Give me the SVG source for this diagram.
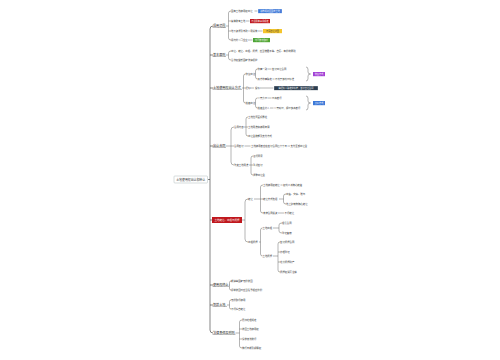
<svg xmlns="http://www.w3.org/2000/svg" width="500" height="360" viewBox="0 0 500 360">
<style>
text{font-family:"Noto Sans CJK SC","Noto Sans",sans-serif;dominant-baseline:central;fill:#333}
.l1{font-size:3.1px;fill:#222}
.lf{font-size:2.4px}
.tg{font-size:2.2px;fill:#fff;text-anchor:middle}
.c{fill:none;stroke:#444;stroke-width:0.4}
.t{fill:none;stroke:#333;stroke-width:0.6}
.u{stroke:#333;stroke-width:0.35}
</style>
<rect width="500" height="360" fill="#fff"/>
<g id="connectors">
<path class="t" d="M208,179.5 H210 M213,26 Q210,26 210,29 V330 Q210,333 213,333 M210,55 H213 M210,88 H213 M210,146 H213 M210,220 H212 M210,285 H213 M210,305 H213"/>
<path class="c" d="M226,26 H228.5 M231,11 Q228.5,11 228.5,13 V38 Q228.5,40 231,40 M228.5,21 H231 M228.5,31 H231"/>
<path class="c" d="M226,55 H228.5 M231,51 Q228.5,51 228.5,53 V58 Q228.5,60 231,60"/>
<path class="c" d="M242,88 H243.5 M245.5,74 Q243.5,74 243.5,76 V101 Q243.5,103 245.5,103 M243.5,88 H245.5"/>
<path class="c" d="M254,74 H255.5 M257.5,69 Q255.5,69 255.5,71 V77 Q255.5,79 257.5,79 M254,103 H255.5 M257.5,98 Q255.5,98 255.5,100 V106 Q255.5,108 257.5,108"/>
<path class="c" d="M306,67 Q308,67 308,69.5 V72 Q308,74 310.5,74 Q308,74 308,76 V78.5 Q308,81 306,81 M306,96 Q308,96 308,98.5 V101 Q308,103 310.5,103 Q308,103 308,105 V107.5 Q308,110 306,110"/>
<path class="c" d="M226,146 H231 M234,127 Q231,127 231,130 V162 Q231,165 234,165 M231,146 H234"/>
<path class="c" d="M244,127 H246 M248,117 Q246,117 246,119 V134 Q246,136 248,136 M246,127 H248 M249,165 H251 M253,156 Q251,156 251,158 V173 Q251,175 253,175 M251,165 H253"/>
<path class="c" d="M242,220 H245 M248,199 Q245,199 245,202 V239 Q245,242 248,242"/>
<path class="c" d="M254,199 H260.5 M263,185 Q260.5,185 260.5,187 V211 Q260.5,213 263,213 M260.5,199 H263"/>
<path class="c" d="M279,199 H283.5 M286,194 Q283.5,194 283.5,196 V202 Q283.5,204 286,204"/>
<path class="c" d="M259,242 H260.5 M262.5,228 Q260.5,228 260.5,230 V254 Q260.5,256 262.5,256"/>
<path class="c" d="M273,228 H279 M282,223 Q279,223 279,225 V231 Q279,233 282,233 M273,256 H278 M280,242 Q278,242 278,244 V270 Q278,272 280,272 M278,252 H280 M278,262 H280"/>
<path class="c" d="M229,285 H229.5 M231,281 Q229.5,281 229.5,282.5 V288.5 Q229.5,290 231,290"/>
<path class="c" d="M227,305 H229.5 M231,300 Q229.5,300 229.5,301.5 V307.5 Q229.5,309 231,309"/>
<path class="c" d="M235.5,333 H239.5 M242,320 Q239.5,320 239.5,322 V346 Q239.5,348 242,348 M239.5,329 H242 M239.5,339 H242"/>
<path class="c" d="M254.5,11 H257.5 M246,21 H249.5 M258,31 H262.5 M248,40 H252.5 M267.5,69 H271.5 M272.5,79 H274.5 M250,88 H254 M260,88 H273.5 M267.5,98 H271.5 M270,108 H273.5 M244.5,146 H250.5 M287.5,146 H290 M280.5,185 H282.5 M278,213 H284"/>
</g>
<g id="root"><rect x="174" y="176" width="33.5" height="7" rx="0.8" fill="#fff" stroke="#9aa" stroke-width="0.4"/><text x="190.7" y="179.5" style="font-size:2.9px;text-anchor:middle">土地使用权出让和转让</text></g>
<g id="n1"><text class="l1" x="213" y="25.6">适用范围</text><line class="u" x1="212.5" y1="27.4" x2="226" y2="27.4"/>
<text class="lf" x="231" y="11">国有土地使用权出让</text><rect x="258" y="9" width="24" height="4.2" fill="#3c78d8" stroke="#fff" stroke-width="0.3"/><text class="tg" x="270" y="11.1">城市规划区国有土地</text>
<text class="lf" x="231" y="21">集体所有土地</text><rect x="250" y="19" width="20" height="4.2" fill="#c0171d"/><text class="tg" x="260" y="21.1">不适用本条例规定</text>
<text class="lf" x="231" y="31">地下资源及市政公用设施</text><rect x="263" y="29" width="19" height="4.2" fill="#f5c52b"/><text class="tg" x="272.5" y="31.1" style="fill:#333">不属出让范围</text>
<text class="lf" x="231" y="40">境内外公司企业</text><rect x="253" y="38" width="17" height="4.2" fill="#4da432"/><text class="tg" x="261.5" y="40.1">均可依法取得</text></g>
<g id="n2"><text class="l1" x="213" y="54.6">基本原则</text><line class="u" x1="212.5" y1="56.4" x2="226" y2="56.4"/>
<text class="lf" x="231" y="51">出让、转让、出租、抵押，应当遵循平等、自愿、有偿的原则</text>
<text class="lf" x="231" y="60">合法权益受国家法律保护</text></g>
<g id="n3"><text class="l1" x="213" y="87.6">土地使用权出让方式</text><line class="u" x1="212.5" y1="89.4" x2="242" y2="89.4"/>
<text class="lf" x="245.5" y="74">协议出让</text>
<text class="lf" x="257.5" y="69">协商一致</text><text class="lf" x="272" y="69">签订出让合同</text>
<text class="lf" x="257.5" y="79">双方协商确定</text><text class="lf" x="275" y="79">不低于最低价标准</text>
<rect x="313" y="72" width="12" height="4.2" fill="#a23fd4"/><text class="tg" x="319" y="74.1">协议方式</text>
<text class="lf" x="245.5" y="88">招标</text><text class="lf" x="255" y="88">投标</text>
<rect x="274" y="86" width="44" height="4.2" fill="#2c3e50" stroke="#fff" stroke-width="0.3"/><text class="tg" x="296" y="88.1">由招标人确定中标者，签订出让合同</text>
<text class="lf" x="245.5" y="103">拍卖出让</text>
<text class="lf" x="257.5" y="98">公开竞价</text><text class="lf" x="272" y="98">价高者得</text>
<text class="lf" x="257.5" y="108">拍卖主持人</text><text class="lf" x="274" y="108">公开叫价，报价最高者得</text>
<rect x="313" y="101" width="12" height="4.2" fill="#3c78d8"/><text class="tg" x="319" y="103.1">竞价方式</text></g>
<g id="n4"><text class="l1" x="213" y="145.6">出让合同</text><line class="u" x1="212.5" y1="147.4" x2="226" y2="147.4"/>
<text class="lf" x="234" y="127">合同内容</text>
<text class="lf" x="248" y="117">土地位置面积界址</text><text class="lf" x="248" y="127">土地用途和使用年限</text><text class="lf" x="248" y="136">出让金数额及支付方式</text>
<text class="lf" x="234" y="146">合同签订</text><text class="lf" x="251" y="146">土地使用者应在签订合同后六十日</text><text class="lf" x="290.5" y="146">支付全部出让金</text>
<text class="lf" x="234" y="165">改变土地用途</text>
<text class="lf" x="253" y="156">征得同意</text><text class="lf" x="253" y="165">重新签订</text><text class="lf" x="253" y="175">调整出让金</text></g>
<g id="n5"><rect x="212" y="217" width="30" height="6" fill="#c0171d"/><text x="227" y="220" style="font-size:2.5px;fill:#fff;text-anchor:middle">土地转让、出租与抵押</text>
<text class="lf" x="248" y="199">转让</text>
<text class="lf" x="263" y="185">土地使用权转让</text><text class="lf" x="283" y="185">权利义务随之转移</text>
<text class="lf" x="263" y="199">转让方式包括</text>
<text class="lf" x="286" y="194">出售、交换、赠与</text><text class="lf" x="286" y="204">地上建筑物随之转让</text>
<text class="lf" x="263" y="213">未按合同投资</text><text class="lf" x="284.5" y="213">不得转让</text>
<text class="lf" x="248" y="242">出租抵押</text>
<text class="lf" x="262.5" y="228">土地出租</text>
<text class="lf" x="282" y="223">租赁合同</text><text class="lf" x="282" y="233">登记备案</text>
<text class="lf" x="262.5" y="256">土地抵押</text>
<text class="lf" x="280" y="242">签订抵押合同</text><text class="lf" x="280" y="252">办理登记</text><text class="lf" x="280" y="262">处分抵押财产</text><text class="lf" x="280" y="272">抵押权消灭注销</text></g>
<g id="n6"><text class="l1" x="213" y="284.6">使用权终止</text><line class="u" x1="212.5" y1="286.4" x2="229" y2="286.4"/>
<text class="lf" x="231" y="281">期满由国家无偿收回</text><text class="lf" x="231" y="290">提前收回时应当给予相应补偿</text></g>
<g id="n7"><text class="l1" x="213" y="304.6">划拨土地</text><line class="u" x1="212.5" y1="306.4" x2="227" y2="306.4"/>
<text class="lf" x="231" y="300">无偿取得使用</text><text class="lf" x="231" y="309">不得擅自转让</text></g>
<g id="n8"><text class="l1" x="213" y="332.6">法律责任及附则</text><line class="u" x1="212.5" y1="334.4" x2="235.5" y2="334.4"/>
<text class="lf" x="242" y="320">罚款处理规定</text><text class="lf" x="242" y="329">收回土地使用权</text><text class="lf" x="242" y="339">没收违法所得</text><text class="lf" x="242" y="348">施行日期及解释权</text></g>
</svg>
